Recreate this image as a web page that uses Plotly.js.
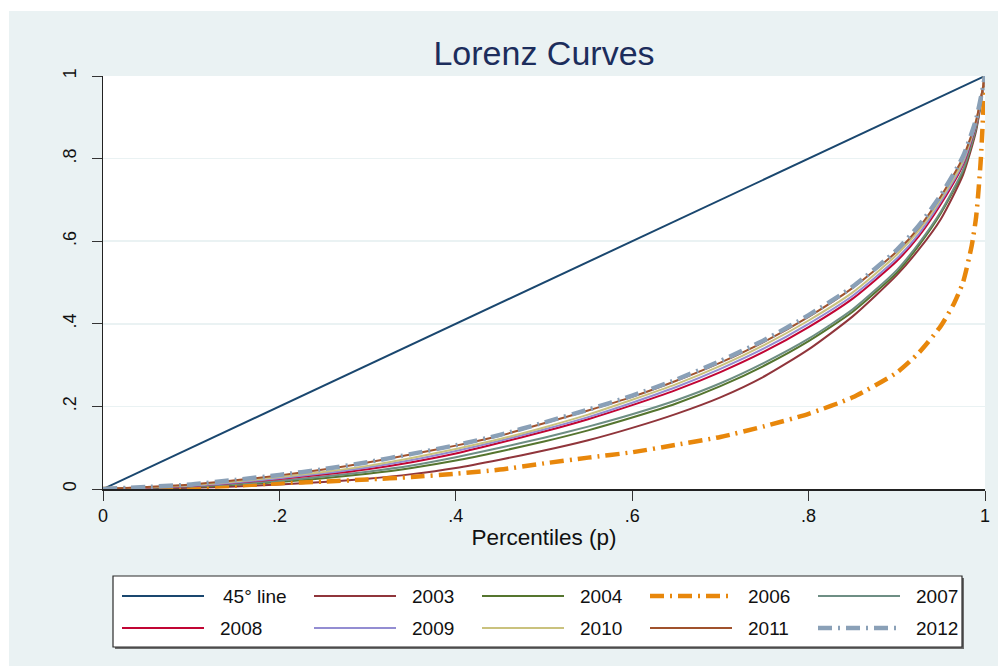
<!DOCTYPE html>
<html>
<head>
<meta charset="utf-8">
<script src="https://cdn.plot.ly/plotly-3.0.1.min.js"></script>
<style>
  html, body { margin: 0; padding: 0; background: #ffffff; width: 998px; height: 666px; overflow: hidden; }
  #chart { position: absolute; left: 9px; top: 11px; width: 989px; height: 655px; }
</style>
</head>
<body>
<div id="chart"></div>
<script>
// Cumulative population share (percentiles p)
const pct = [0, 0.05, 0.10, 0.15, 0.20, 0.25, 0.30, 0.35, 0.40, 0.45, 0.50, 0.55, 0.60,
             0.65, 0.70, 0.75, 0.80, 0.85, 0.90, 0.925, 0.95, 0.975, 0.99, 1];

// Line of perfect equality
const equalityX = [0, 1];
const equalityY = [0, 1];

// Cumulative income share by year (Lorenz ordinates at each percentile)
const L2003 = [0, 0.001, 0.003, 0.006, 0.011, 0.017, 0.025, 0.036, 0.051, 0.071, 0.093, 0.118, 0.148,
               0.182, 0.222, 0.273, 0.338, 0.418, 0.518, 0.580, 0.654, 0.760, 0.868, 1];
const L2004 = [0, 0.002, 0.005, 0.010, 0.017, 0.026, 0.037, 0.051, 0.069, 0.091, 0.115, 0.142, 0.173,
               0.207, 0.249, 0.299, 0.358, 0.429, 0.524, 0.590, 0.668, 0.768, 0.874, 1];
const L2007 = [0, 0.003, 0.006, 0.012, 0.020, 0.030, 0.042, 0.057, 0.077, 0.100, 0.124, 0.151, 0.181,
               0.215, 0.256, 0.306, 0.364, 0.435, 0.530, 0.595, 0.672, 0.772, 0.876, 1];
const L2008 = [0, 0.003, 0.007, 0.015, 0.024, 0.035, 0.048, 0.065, 0.086, 0.112, 0.139, 0.169, 0.203,
               0.240, 0.283, 0.333, 0.392, 0.461, 0.552, 0.612, 0.690, 0.785, 0.884, 1];
const L2009 = [0, 0.004, 0.008, 0.016, 0.026, 0.038, 0.052, 0.070, 0.092, 0.117, 0.144, 0.174, 0.209,
               0.247, 0.291, 0.341, 0.400, 0.468, 0.558, 0.618, 0.696, 0.789, 0.887, 1];
const L2010 = [0, 0.004, 0.009, 0.018, 0.029, 0.041, 0.056, 0.075, 0.097, 0.121, 0.149, 0.180, 0.216,
               0.254, 0.298, 0.349, 0.408, 0.476, 0.567, 0.626, 0.702, 0.794, 0.890, 1];
const L2011 = [0, 0.005, 0.011, 0.021, 0.033, 0.047, 0.064, 0.084, 0.105, 0.129, 0.159, 0.190, 0.223,
               0.262, 0.306, 0.357, 0.417, 0.487, 0.575, 0.633, 0.709, 0.802, 0.893, 1];
const L2012 = [0, 0.005, 0.011, 0.022, 0.034, 0.048, 0.065, 0.085, 0.106, 0.131, 0.161, 0.192, 0.226,
               0.265, 0.310, 0.361, 0.421, 0.490, 0.579, 0.638, 0.712, 0.805, 0.896, 1];

// 2006 is far more concentrated at the top, so it gets a finer grid near p = 1
const pct2006 = [0, 0.05, 0.10, 0.15, 0.20, 0.25, 0.30, 0.35, 0.40, 0.45, 0.50, 0.55, 0.60, 0.65,
                 0.70, 0.75, 0.80, 0.85, 0.90, 0.925, 0.95, 0.965, 0.975, 0.985, 0.99, 0.995, 1];
const L2006 = [0, 0.001, 0.004, 0.008, 0.014, 0.018, 0.023, 0.029, 0.037, 0.047, 0.062, 0.076, 0.089,
               0.107, 0.126, 0.152, 0.182, 0.222, 0.282, 0.330, 0.395, 0.450, 0.500, 0.590, 0.660, 0.790, 1];

const xTickVals = [0, 0.2, 0.4, 0.6, 0.8, 1];
const xTickText = ['0', '.2', '.4', '.6', '.8', '1'];
const yTickVals = [0, 0.2, 0.4, 0.6, 0.8, 1];
const yTickText = ['0', '.2', '.4', '.6', '.8', '1'];

const FONT = 'Liberation Sans, Arial, sans-serif';
const stataDashDot = '14px,6px,2px,6px';

function solid(name, x, y, color) {
  return { type: 'scatter', mode: 'lines', name: name, x: x, y: y,
           line: { color: color, width: 2, shape: 'spline', smoothing: 0.6 } };
}
function dashed(name, x, y, color) {
  return { type: 'scatter', mode: 'lines', name: name, x: x, y: y,
           line: { color: color, width: 4.5, dash: stataDashDot, shape: 'spline', smoothing: 0.6 } };
}

const traces = [
  { type: 'scatter', mode: 'lines', name: '45° line', x: equalityX, y: equalityY,
    line: { color: '#1a476f', width: 2 } },
  solid('2003', pct, L2003, '#90353b'),
  solid('2004', pct, L2004, '#55752f'),
  dashed('2006', pct2006, L2006, '#e8870b'),
  solid('2007', pct, L2007, '#6e8e84'),
  solid('2008', pct, L2008, '#c10534'),
  solid('2009', pct, L2009, '#938dd2'),
  solid('2010', pct, L2010, '#cac27e'),
  solid('2011', pct, L2011, '#a0522d'),
  dashed('2012', pct, L2012, '#8aa0b7')
];

// ---- figure geometry (pixels inside the chart div) ----
const W = 989, H = 655;
const M = { l: 94, r: 13, t: 65, b: 177 };
const plotW = W - M.l - M.r;
const plotH = H - M.t - M.b;
const toPX = px => (px - M.l) / plotW;           // div pixel -> paper x
const toPY = py => (H - M.b - py) / plotH;       // div pixel -> paper y

// ---- boxed two-row legend below the plot, five keys per row ----
const legendBox = { x0: 104, y0: 565, x1: 953, y1: 636 };
const keyColumns = [113, 305, 473, 641, 809];    // left end of each key line
const keyRows = [585, 617];
const keyLength = 82;
const labelGap = 14;

const shapes = [
  { type: 'rect', xref: 'paper', yref: 'paper', layer: 'above',
    x0: toPX(legendBox.x0 + 2), x1: toPX(legendBox.x1 + 2),
    y0: toPY(legendBox.y0 + 2), y1: toPY(legendBox.y1 + 2),
    line: { width: 0 }, fillcolor: '#6d6d6d' },
  { type: 'rect', xref: 'paper', yref: 'paper', layer: 'above',
    x0: toPX(legendBox.x0), x1: toPX(legendBox.x1),
    y0: toPY(legendBox.y0), y1: toPY(legendBox.y1),
    line: { width: 1.2, color: '#2b2b2b' }, fillcolor: '#ffffff' }
];
const annotations = [];

traces.forEach((tr, i) => {
  const col = i % keyColumns.length;
  const row = Math.floor(i / keyColumns.length);
  const kx = keyColumns[col];
  const ky = keyRows[row];
  shapes.push({
    type: 'line', xref: 'paper', yref: 'paper', layer: 'above',
    x0: toPX(kx), x1: toPX(kx + keyLength), y0: toPY(ky), y1: toPY(ky),
    line: { color: tr.line.color, width: tr.line.width, dash: tr.line.dash || 'solid' }
  });
  annotations.push({
    xref: 'paper', yref: 'paper', showarrow: false,
    x: toPX(kx + keyLength + labelGap + (i === 0 ? 3 : 0)), y: toPY(ky),
    xanchor: 'left', yanchor: 'middle', text: tr.name,
    font: { family: FONT, size: 19, color: '#111111' }
  });
});

const layout = {
  width: W, height: H,
  margin: M,
  paper_bgcolor: '#eaf2f3',
  plot_bgcolor: '#ffffff',
  font: { family: FONT, size: 17, color: '#111111' },
  title: { text: 'Lorenz Curves', x: 0.5, xref: 'paper', y: 0.936, yref: 'container',
           xanchor: 'center', yanchor: 'middle',
           font: { family: FONT, size: 34, color: '#1c2d5c' } },
  xaxis: {
    range: [0, 1], fixedrange: true,
    tickvals: xTickVals, ticktext: xTickText,
    ticks: 'outside', ticklen: 10, tickwidth: 1, tickcolor: '#333333',
    showline: true, linecolor: '#222222', linewidth: 1.5,
    showgrid: false, zeroline: false,
    tickfont: { family: FONT, size: 18, color: '#111111' },
    title: { text: 'Percentiles (p)', standoff: 4, font: { family: FONT, size: 22.5, color: '#111111' } }
  },
  yaxis: {
    range: [0, 1], fixedrange: true,
    tickvals: yTickVals, ticktext: yTickText, tickangle: -90,
    ticks: 'outside', ticklen: 10, tickwidth: 1, tickcolor: '#333333',
    showline: true, linecolor: '#222222', linewidth: 1.5,
    showgrid: true, gridcolor: '#eaf2f3', gridwidth: 1.5, zeroline: false,
    ticklabelstandoff: 8,
    tickfont: { family: FONT, size: 18, color: '#111111' }
  },
  showlegend: false,
  shapes: shapes,
  annotations: annotations
};

Plotly.newPlot('chart', traces, layout, { displayModeBar: false, staticPlot: true });
</script>
</body>
</html>
